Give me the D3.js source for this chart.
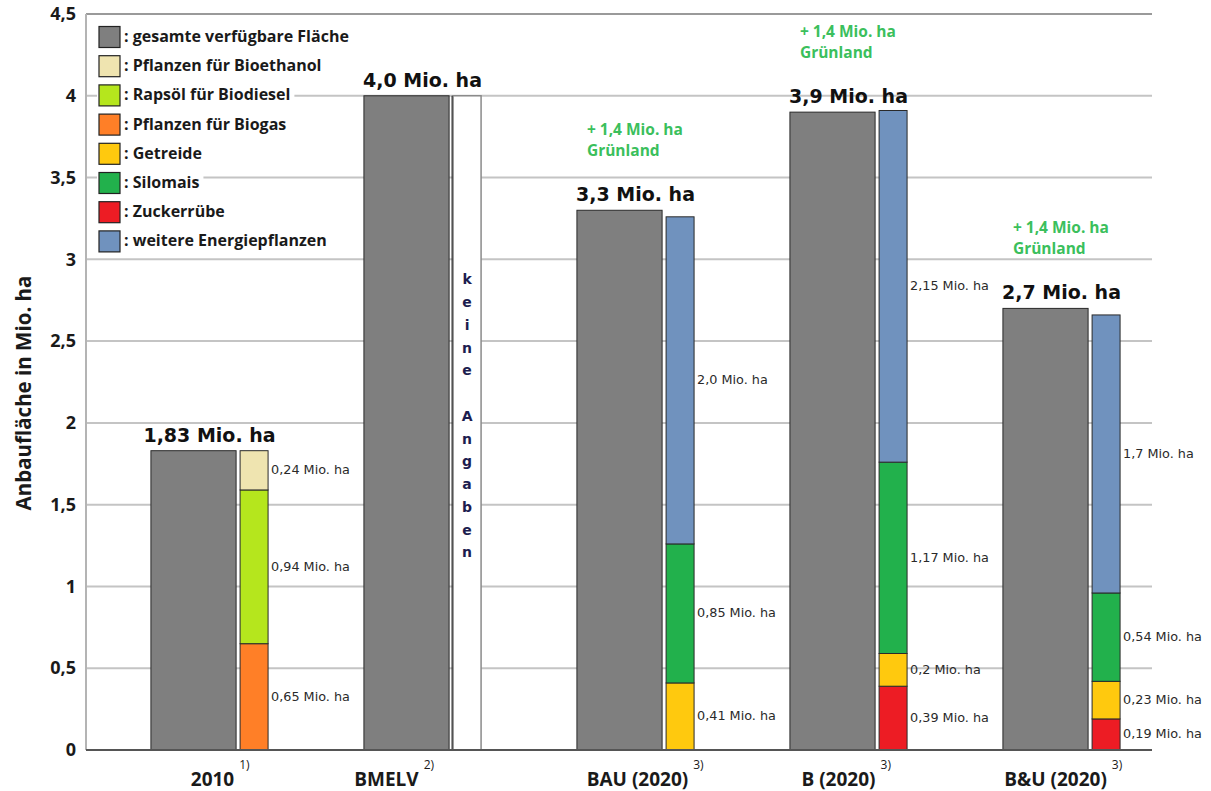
<!DOCTYPE html>
<html>
<head>
<meta charset="utf-8">
<script src="https://cdn.jsdelivr.net/npm/d3@7"></script>
<style>
  html, body { margin: 0; padding: 0; background: #fff; }
  svg { display: block; }
</style>
</head>
<body>
<script>
// Anbaufläche für Energiepflanzen in Deutschland (Mio. ha)
const categories = ["2010", "BMELV", "BAU (2020)", "B (2020)", "B&U (2020)"];
const footnotes  = ["1)", "2)", "3)", "3)", "3)"];
const totals     = [1.83, 4.0, 3.3, 3.9, 2.7];
const noData     = [false, true, false, false, false];
const gruenland  = [null, null, 1.4, 1.4, 1.4];

// crop shares per scenario (bottom to top order of the stack)
const biogas      = [0.65, 0, 0, 0, 0];
const biodiesel   = [0.94, 0, 0, 0, 0];
const bioethanol  = [0.24, 0, 0, 0, 0];
const zuckerruebe = [0, 0, 0, 0.39, 0.19];
const getreide    = [0, 0, 0.41, 0.2, 0.23];
const silomais    = [0, 0, 0.85, 1.17, 0.54];
const weitere     = [0, 0, 2.0, 2.15, 1.7];

const yTicks = [0, 0.5, 1, 1.5, 2, 2.5, 3, 3.5, 4, 4.5];

const seriesKeys = ["biogas", "biodiesel", "bioethanol", "zuckerruebe", "getreide", "silomais", "weitere"];
const seriesData = { biogas, biodiesel, bioethanol, zuckerruebe, getreide, silomais, weitere };
const colors = {
  gesamt: "#7f7f7f",
  bioethanol: "#efe4b0",
  biodiesel: "#b5e61d",
  biogas: "#ff7f27",
  getreide: "#ffc90e",
  silomais: "#22b14c",
  zuckerruebe: "#ed1c24",
  weitere: "#7092be"
};
const legendItems = [
  ["gesamt", ": gesamte verfügbare Fläche"],
  ["bioethanol", ": Pflanzen für Bioethanol"],
  ["biodiesel", ": Rapsöl für Biodiesel"],
  ["biogas", ": Pflanzen für Biogas"],
  ["getreide", ": Getreide"],
  ["silomais", ": Silomais"],
  ["zuckerruebe", ": Zuckerrübe"],
  ["weitere", ": weitere Energiepflanzen"]
];

const W = 1211, H = 791;
const plotLeft = 86, plotRight = 1152, plotTop = 14, plotBottom = 750;
const sansBold = "'Open Sans', Lato, sans-serif";
const verdana = "'DejaVu Sans', Verdana, sans-serif";

const fmt = v => (Number.isInteger(v) ? v.toFixed(1) : String(v)).replace(".", ",");
const fmtTick = v => String(v).replace(".", ",");

const svg = d3.select("body").append("svg").attr("width", W).attr("height", H);

const y = d3.scaleLinear().domain([0, 4.5]).range([plotBottom, plotTop]);
const x = d3.scaleBand().domain(categories).range([103, 1168])
  .paddingInner(0.45).paddingOuter(0.225);
const grayW = x.bandwidth() * 0.727;
const gap = 4;
const stackW = x.bandwidth() - grayW - gap;

// grid
const grid = svg.append("g");
grid.selectAll("line").data(yTicks.filter(t => t > 0 && t < 4.5)).join("line")
  .attr("x1", plotLeft).attr("x2", plotRight)
  .attr("y1", d => y(d)).attr("y2", d => y(d))
  .attr("stroke", "#c4c4c4").attr("stroke-width", 2);
svg.append("line").attr("x1", plotLeft).attr("x2", plotRight)
  .attr("y1", y(4.5)).attr("y2", y(4.5))
  .attr("stroke", "#9a9a9a").attr("stroke-width", 2);
svg.append("line").attr("x1", plotLeft).attr("x2", plotLeft)
  .attr("y1", y(4.5)).attr("y2", y(0))
  .attr("stroke", "#b4b4b4").attr("stroke-width", 2);

// y axis labels
const yAxis = d3.axisLeft(y).tickValues(yTicks).tickFormat(fmtTick).tickSize(0).tickPadding(10);
const yG = svg.append("g").attr("transform", `translate(${plotLeft},0)`).call(yAxis);
yG.select(".domain").remove();
yG.selectAll("text").attr("font-family", sansBold).attr("font-weight", 700)
  .attr("font-size", 18).attr("fill", "#1a1a1a");

svg.append("text")
  .attr("transform", `translate(31,393) rotate(-90)`)
  .attr("text-anchor", "middle")
  .attr("font-family", sansBold).attr("font-weight", 700).attr("font-size", 20.5)
  .attr("fill", "#1a1a1a")
  .text("Anbaufläche in Mio. ha");

// gray total bars
svg.append("g").selectAll("rect").data(categories).join("rect")
  .attr("x", d => x(d)).attr("width", grayW)
  .attr("y", (d, i) => y(totals[i])).attr("height", (d, i) => y(0) - y(totals[i]))
  .attr("fill", colors.gesamt).attr("stroke", "#2a2a2a").attr("stroke-width", 1);

// stacked crop bars
const rows = categories.map((c, i) => {
  const r = { cat: c, idx: i };
  seriesKeys.forEach(k => r[k] = seriesData[k][i]);
  return r;
});
const stacked = d3.stack().keys(seriesKeys)(rows);
const stackG = svg.append("g");
stacked.forEach(layer => {
  layer.forEach(seg => {
    const v = seriesData[layer.key][seg.data.idx];
    if (!(v > 0)) return;
    const cat = seg.data.cat;
    const sx = x(cat) + grayW + gap;
    stackG.append("rect")
      .attr("x", sx).attr("width", stackW)
      .attr("y", y(seg[1])).attr("height", y(seg[0]) - y(seg[1]))
      .attr("fill", colors[layer.key]).attr("stroke", "#2a2a2a").attr("stroke-width", 1);
    stackG.append("text")
      .attr("x", sx + stackW + 3).attr("y", y((seg[0] + seg[1]) / 2) + 4)
      .attr("font-family", verdana).attr("font-size", 12.8).attr("fill", "#2a2a2a")
      .text(fmt(v) + " Mio. ha");
  });
});

// "keine Angaben" bar
categories.forEach((c, i) => {
  if (!noData[i]) return;
  const sx = x(c) + grayW + gap;
  svg.append("rect")
    .attr("x", sx).attr("width", stackW)
    .attr("y", y(totals[i])).attr("height", y(0) - y(totals[i]))
    .attr("fill", "#fff").attr("stroke", "#8a8a8a").attr("stroke-width", 1.5);
  svg.append("line").attr("x1", sx - 1).attr("x2", sx - 1)
    .attr("y1", y(totals[i])).attr("y2", y(0)).attr("stroke", "#111").attr("stroke-width", 1);
  const letters = "keine Angaben".split("");
  const step = 22.75;
  const midY = y(totals[i] / 2) - 7;
  const startY = midY - step * (letters.length - 1) / 2;
  svg.append("g").selectAll("text").data(letters).join("text")
    .attr("x", sx + stackW / 2).attr("y", (d, j) => startY + j * step)
    .attr("dy", "0.35em").attr("text-anchor", "middle")
    .attr("font-family", verdana).attr("font-weight", 700).attr("font-size", 14)
    .attr("fill", "#1d1d4f")
    .text(d => d);
});

// total labels
svg.append("g").selectAll("text").data(categories).join("text")
  .attr("x", d => x(d) + x.bandwidth() / 2)
  .attr("y", (d, i) => y(totals[i]) - 9)
  .attr("text-anchor", "middle")
  .attr("font-family", verdana).attr("font-weight", 700).attr("font-size", 19)
  .attr("fill", "#111")
  .text((d, i) => fmt(totals[i]) + " Mio. ha");

// grassland notes
categories.forEach((c, i) => {
  if (gruenland[i] == null) return;
  const t = svg.append("text")
    .attr("x", x(c) + 10).attr("y", y(totals[i]) - 75)
    .attr("font-family", sansBold).attr("font-weight", 700).attr("font-size", 15.5)
    .attr("fill", "#3bbf5c");
  t.append("tspan").attr("x", x(c) + 10).text("+ " + fmt(gruenland[i]) + " Mio. ha");
  t.append("tspan").attr("x", x(c) + 10).attr("dy", 21).text("Grünland");
});

// baseline
svg.append("line").attr("x1", plotLeft).attr("x2", plotRight)
  .attr("y1", y(0)).attr("y2", y(0)).attr("stroke", "#555").attr("stroke-width", 2);

// x axis labels with footnote markers (nudged sideways per group)
const xLabelShift = [3, -36, 2, -10, -6];
categories.forEach((c, i) => {
  const cx = x(c) + x.bandwidth() / 2 + xLabelShift[i];
  const t = svg.append("text")
    .attr("x", cx).attr("y", 786).attr("text-anchor", "middle")
    .attr("font-family", sansBold).attr("font-weight", 700).attr("font-size", 19)
    .attr("fill", "#1a1a1a").text(c);
  const w = t.node().getComputedTextLength();
  svg.append("text")
    .attr("x", cx + w / 2 + 5).attr("y", 769)
    .attr("font-family", sansBold).attr("font-size", 12).attr("fill", "#1a1a1a")
    .text(footnotes[i]);
});

// legend
const legend = svg.append("g");
legendItems.forEach(([key, label], i) => {
  const cy = 37 + i * 29.2;
  const g = legend.append("g");
  const bg = g.append("rect").attr("x", 97).attr("y", cy - 13).attr("height", 26).attr("fill", "#fff");
  g.append("rect").attr("x", 99).attr("y", cy - 10.5).attr("width", 21).attr("height", 21)
    .attr("fill", colors[key]).attr("stroke", "#222").attr("stroke-width", 1.2);
  const t = g.append("text").attr("x", 124).attr("y", cy + 5)
    .attr("font-family", sansBold).attr("font-weight", 700).attr("font-size", 16)
    .attr("fill", "#1a1a1a").text(label);
  bg.attr("width", 124 - 97 + t.node().getComputedTextLength() + 4);
});
</script>
</body>
</html>
